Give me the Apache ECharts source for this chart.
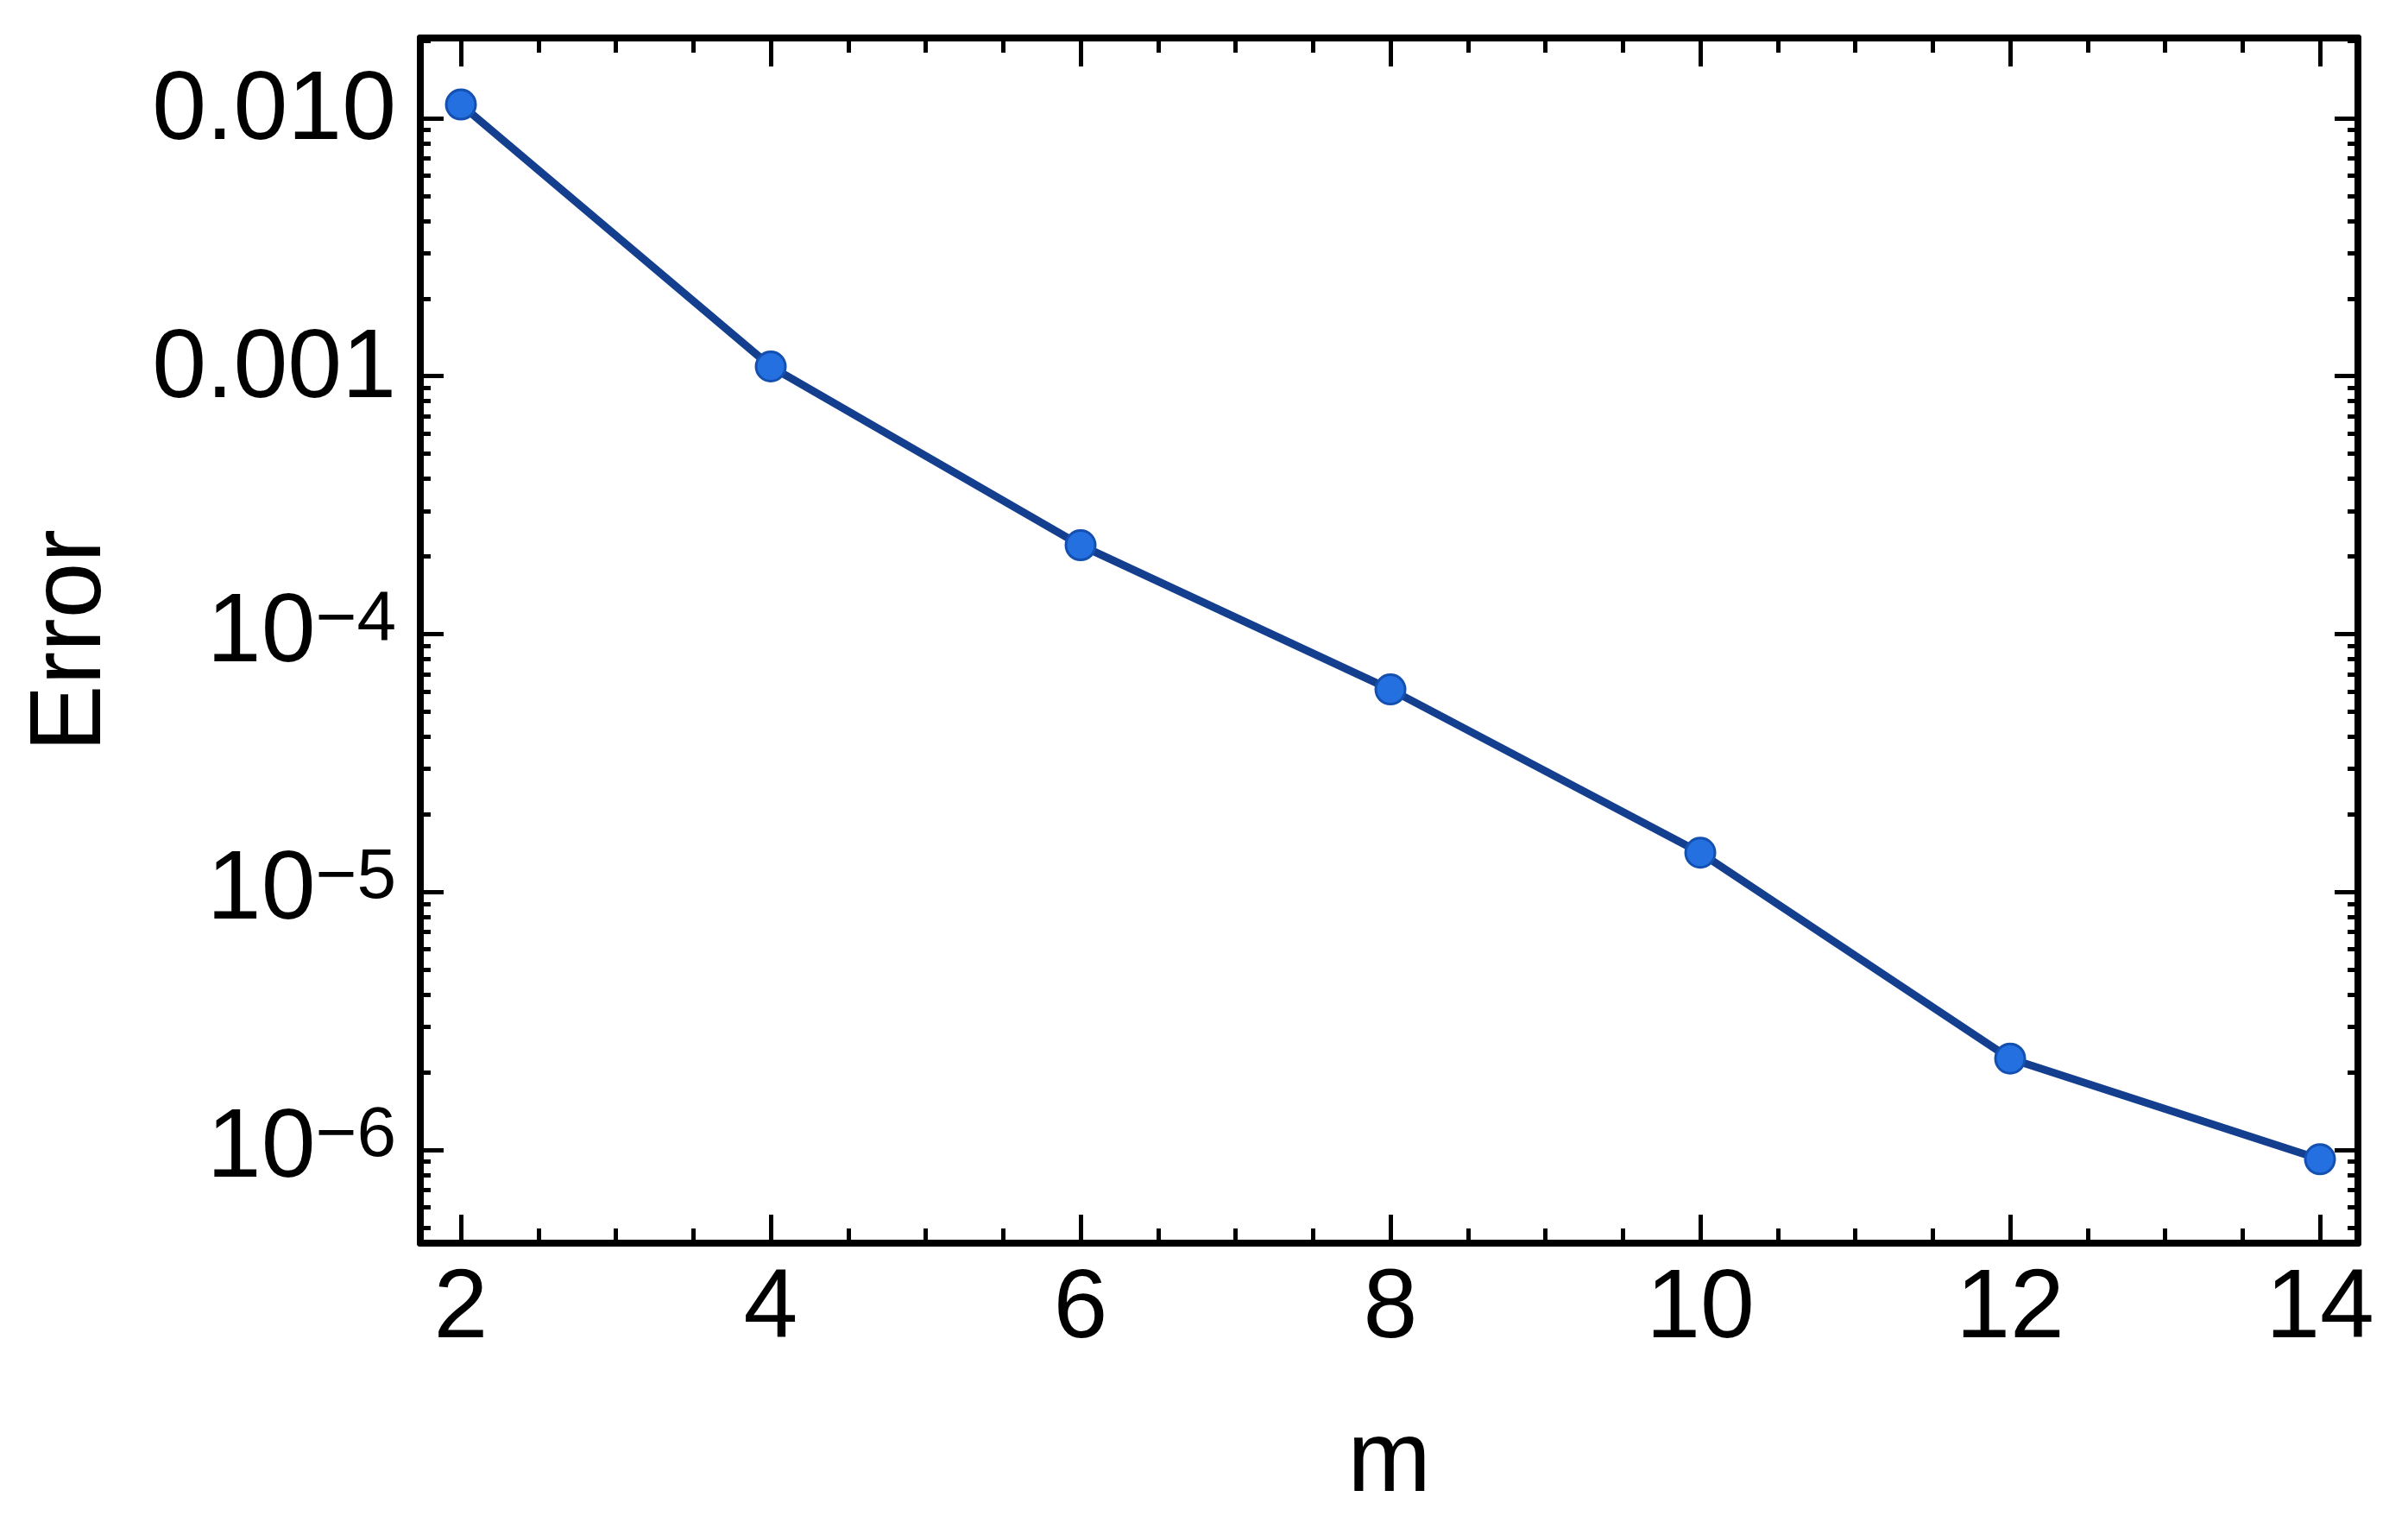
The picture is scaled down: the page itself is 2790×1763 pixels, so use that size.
<!DOCTYPE html>
<html>
<head>
<meta charset="utf-8">
<script src="https://cdn.jsdelivr.net/npm/echarts@6/dist/echarts.min.js"></script>
<style>
  html, body { margin: 0; padding: 0; background: #ffffff; }
  #chart { width: 2790px; height: 1763px; }
</style>
</head>
<body>
<div id="chart"></div>
<script>
// ---- data ----
const mValues = [2, 4, 6, 8, 10, 12, 14];
const errorValues = [0.0113, 0.00109, 2.21e-4, 6.1e-5, 1.42e-5, 2.26e-6, 9.2e-7];

// ---- ticks ----
const xMajorTicks = [2, 4, 6, 8, 10, 12, 14];
const xTickLabels = ['2', '4', '6', '8', '10', '12', '14'];
const xMinorTicks = [2.5, 3, 3.5, 4.5, 5, 5.5, 6.5, 7, 7.5, 8.5, 9, 9.5, 10.5, 11, 11.5, 12.5, 13, 13.5];
const yMajorTicks = [1e-6, 1e-5, 1e-4, 1e-3, 1e-2];
const yTickLabels = ['10^\u22126', '10^\u22125', '10^\u22124', '0.001', '0.010'];
const yMinorMultipliers = [2, 3, 4, 5, 6, 7, 8, 9];
const yDecades = [1e-7, 1e-6, 1e-5, 1e-4, 1e-3, 1e-2];

const xMin = 1.738, xMax = 14.245;
const yMin = 4.35e-7, yMax = 0.02047;

const yMinorTicks = [];
yDecades.forEach(d => yMinorMultipliers.forEach(k => {
  const v = d * k;
  if (v > yMin && v < yMax) yMinorTicks.push(v);
}));

const FONT = "'Liberation Sans', Arial, sans-serif";
const FS = 113;
const LINE_W = 8;
const TICK_W = 5;
const black = '#000000';

function yLabel(v) {
  let idx = -1;
  yMajorTicks.forEach((t, i) => { if (Math.abs(Math.log10(v) - Math.log10(t)) < 1e-6) idx = i; });
  if (idx < 0) return '';
  const s = yTickLabels[idx];
  if (s.indexOf('^') >= 0) {
    const p = s.split('^');
    return '{b|' + p[0] + '}{s|' + p[1] + '}';
  }
  return '{d|' + s + '}';
}

const grid = { left: 487, right: 58, top: 44, bottom: 323, containLabel: false };

function xAx(pos, ticks, len, showLine, label) {
  return {
    type: 'value', position: pos, min: xMin, max: xMax,
    axisLine: { show: showLine, onZero: false, lineStyle: { color: black, width: LINE_W } },
    axisTick: { show: true, inside: true, length: len, customValues: ticks, lineStyle: { color: black, width: TICK_W } },
    axisLabel: label ? {
      show: true, customValues: xMajorTicks, margin: 21,
      fontSize: FS, fontFamily: FONT, color: black,
      formatter: v => { const i = xMajorTicks.indexOf(Math.round(v)); return i >= 0 ? xTickLabels[i] : ''; }
    } : { show: false },
    splitLine: { show: false }
  };
}

function yAx(pos, ticks, len, showLine, label) {
  return {
    type: 'log', logBase: 10, position: pos, min: yMin, max: yMax,
    axisLine: { show: showLine, onZero: false, lineStyle: { color: black, width: LINE_W } },
    axisTick: { show: true, inside: true, length: len, customValues: ticks, lineStyle: { color: black, width: TICK_W } },
    axisLabel: label ? {
      show: true, customValues: yMajorTicks, margin: 28,
      formatter: yLabel,
      rich: {
        b: { fontSize: FS, lineHeight: FS, fontFamily: FONT, color: black },
        s: { fontSize: 82, lineHeight: 44, verticalAlign: 'top', fontFamily: FONT, color: black },
        d: { fontSize: FS, lineHeight: FS, fontFamily: FONT, color: black, padding: [0, 0, 14, 0] }
      }
    } : { show: false },
    splitLine: { show: false }
  };
}

const xAxes = [
  xAx('bottom', xMajorTicks, 33, true, true),
  xAx('bottom', xMinorTicks, 17, false, false),
  xAx('top', xMajorTicks, 33, true, false),
  xAx('top', xMinorTicks, 17, false, false)
];
xAxes[0].name = 'm';
xAxes[0].nameLocation = 'middle';
xAxes[0].nameGap = 197;
xAxes[0].nameTextStyle = { fontSize: 116, fontFamily: FONT, color: black };

const yAxes = [
  yAx('left', yMajorTicks, 27, true, true),
  yAx('left', yMinorTicks, 12, false, false),
  yAx('right', yMajorTicks, 27, true, false),
  yAx('right', yMinorTicks, 12, false, false)
];
yAxes[0].name = 'Error';
yAxes[0].nameLocation = 'middle';
yAxes[0].nameGap = 345;
yAxes[0].nameTextStyle = { fontSize: 116, fontFamily: FONT, color: black };

const chart = echarts.init(document.getElementById('chart'), null, { renderer: 'canvas' });
chart.setOption({
  animation: false,
  backgroundColor: '#ffffff',
  grid: grid,
  xAxis: xAxes,
  yAxis: yAxes,
  series: [{
    type: 'line',
    xAxisIndex: 0,
    yAxisIndex: 0,
    data: mValues.map((m, i) => [m, errorValues[i]]),
    symbol: 'circle',
    symbolSize: 34,
    lineStyle: { color: '#143f8f', width: 9 },
    itemStyle: { color: '#2470e0', borderColor: '#1450b0', borderWidth: 3 },
    z: 5
  }]
});
</script>
</body>
</html>
